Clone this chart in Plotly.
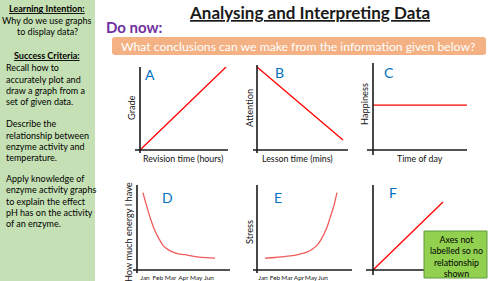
import plotly.graph_objects as go

W, H = 500, 281
FONT = "Lato"

# ---------------- data ----------------
months = ["Jan", "Feb", "Mar", "Apr", "May", "Jun"]
month_pos = [1, 2, 3, 4, 5, 6]

a_x = [0, 1]
a_y = [0, 1]

b_x = [0, 1]
b_y = [1, 0.12]

c_x = [0, 1]
c_y = [0.54, 0.54]

d_x = [0.84, 1.0, 1.16, 1.35, 1.55, 1.75, 1.94, 2.2, 2.41, 2.8, 3.19, 3.6, 4.13, 4.6, 5.06, 5.8, 6.47]
d_y = [0.91, 0.82, 0.74, 0.64, 0.55, 0.47, 0.41, 0.34, 0.29, 0.24, 0.21, 0.19, 0.18, 0.165, 0.155, 0.145, 0.14]

e_x = [1.17, 2.0, 2.6, 3.25, 4.0, 4.67, 5.1, 5.5, 5.85, 6.17, 6.4, 6.58, 6.76, 6.92, 7.05, 7.17]
e_y = [0.14, 0.147, 0.155, 0.165, 0.185, 0.21, 0.245, 0.29, 0.36, 0.45, 0.53, 0.61, 0.69, 0.76, 0.84, 0.91]

f_x = [0, 1]
f_y = [0, 1]

left_lines = [
    ("<b><u>Learning Intention:</u></b>", "c", 8),
    ("Why do we use graphs", "c", 21),
    ("to display data?", "c", 32),
    ("<b><u>Success Criteria:</u></b>", "c", 55),
    ("Recall how to", "l", 67),
    ("accurately plot and", "l", 79),
    ("draw a graph from a", "l", 90),
    ("set of given data.", "l", 102),
    ("Describe the", "l", 123),
    ("relationship between", "l", 135),
    ("enzyme activity and", "l", 146),
    ("temperature.", "l", 157),
    ("Apply knowledge of", "l", 178),
    ("enzyme activity graphs", "l", 189),
    ("to explain the effect", "l", 201),
    ("pH has on the activity", "l", 212),
    ("of an enzyme.", "l", 223),
]

# ---------------- layout helpers (pixel -> paper) ----------------
def PX(x):
    return x / W

def PY(y):
    return 1 - y / H

fig = go.Figure()
shapes = []
annotations = []

RED = "#FF0000"
PINK = "#F25A5A"
BLUE = "#0070C0"

charts = [
    dict(x=a_x, y=a_y, color=RED, spline=False, x0=140, xu=86, y0=150, yu=83,
         vline=(140, 67, 153), hline=(150, 135, 228), letter=("A", 150, 74),
         xt=("Revision time (hours)", 183, 158), yt=("Grade", 131, 108)),
    dict(x=b_x, y=b_y, color=RED, spline=False, x0=257, xu=86, y0=150, yu=83,
         vline=(257, 65, 153), hline=(150, 253, 348), letter=("B", 279, 73),
         xt=("Lesson time (mins)", 297, 158), yt=("Attention", 249, 108)),
    dict(x=c_x, y=c_y, color=RED, spline=False, x0=373, xu=94, y0=150, yu=83,
         vline=(373, 63, 155), hline=(150, 367, 467), letter=("C", 389, 73),
         xt=("Time of day", 420, 158), yt=("Happiness", 365, 104)),
    dict(x=d_x, y=d_y, color=PINK, spline=True, x0=132.2, xu=12.8, y0=270, yu=85,
         vline=(137, 185, 273), hline=(270, 133, 230), letter=("D", 167, 197),
         xt=None, yt=("How much energy I have", 128, 232), ticks=True),
    dict(x=e_x, y=e_y, color=PINK, spline=True, x0=251, xu=12, y0=270, yu=85,
         vline=(257, 185, 273), hline=(270, 253, 352), letter=("E", 278, 197),
         xt=None, yt=("Stress", 249, 232), ticks=True),
    dict(x=f_x, y=f_y, color=RED, spline=False, x0=373, xu=70, y0=270, yu=68,
         vline=(373, 185, 275), hline=(270, 366, 460), letter=("F", 393, 192),
         xt=None, yt=None),
]

for i, c in enumerate(charts, start=1):
    vx, vt, vb = c["vline"]
    hy, hl, hr = c["hline"]
    dx0, dx1 = vx - 3, hr
    dyt, dyb = vt, hy + 2
    xr = [(dx0 - c["x0"]) / c["xu"], (dx1 - c["x0"]) / c["xu"]]
    yr = [(c["y0"] - dyb) / c["yu"], (c["y0"] - dyt) / c["yu"]]
    xa = "xaxis" if i == 1 else f"xaxis{i}"
    ya = "yaxis" if i == 1 else f"yaxis{i}"
    xref = "x" if i == 1 else f"x{i}"
    yref = "y" if i == 1 else f"y{i}"
    fig.add_trace(go.Scatter(
        x=c["x"], y=c["y"], mode="lines", xaxis=xref, yaxis=yref,
        line=dict(color=c["color"], width=1.3,
                  shape="spline" if c["spline"] else "linear"),
        hoverinfo="skip", showlegend=False))
    xaxis = dict(domain=[PX(dx0), PX(dx1)], range=xr, anchor=yref,
                 showgrid=False, zeroline=False, showline=False,
                 showticklabels=False, fixedrange=True)
    if c.get("ticks"):
        xaxis.update(showticklabels=True, tickvals=month_pos, ticktext=months,
                     tickfont=dict(family=FONT, size=6.5, color="#222"), ticks="",
                     tickangle=0, ticklen=0)
    yaxis = dict(domain=[PY(dyb), PY(dyt)], range=yr, anchor=xref,
                 showgrid=False, zeroline=False, showline=False,
                 showticklabels=False, fixedrange=True)
    fig.update_layout({xa: xaxis, ya: yaxis})
    shapes.append(dict(type="line", xref="paper", yref="paper",
                       x0=PX(vx), x1=PX(vx), y0=PY(vt), y1=PY(vb),
                       line=dict(color="#1a1a1a", width=1.6)))
    shapes.append(dict(type="line", xref="paper", yref="paper",
                       x0=PX(hl), x1=PX(hr), y0=PY(hy), y1=PY(hy),
                       line=dict(color="#1a1a1a", width=1.6)))
    t, lx, ly = c["letter"]
    annotations.append(dict(text=t, x=PX(lx), y=PY(ly), xref="paper", yref="paper",
                            showarrow=False, xanchor="center", yanchor="middle",
                            font=dict(family=FONT, size=14, color=BLUE)))
    if c["xt"]:
        t, lx, ly = c["xt"]
        annotations.append(dict(text=t, x=PX(lx), y=PY(ly), xref="paper", yref="paper",
                                showarrow=False, xanchor="center", yanchor="middle",
                                font=dict(family=FONT, size=8.8, color="#111")))
    if c["yt"]:
        t, lx, ly = c["yt"]
        annotations.append(dict(text=t, x=PX(lx), y=PY(ly), xref="paper", yref="paper",
                                showarrow=False, xanchor="center", yanchor="middle",
                                textangle=-90,
                                font=dict(family=FONT, size=9.2, color="#111")))

# left green panel
shapes.insert(0, dict(type="rect", xref="paper", yref="paper", x0=0, x1=PX(95),
                      y0=0, y1=1, fillcolor="#C5E0B4", line=dict(width=0), layer="below"))
for txt, al, y in left_lines:
    annotations.append(dict(text=txt, x=PX(47 if al == "c" else 4), y=PY(y),
                            xref="paper", yref="paper", showarrow=False,
                            xanchor="center" if al == "c" else "left", yanchor="middle",
                            font=dict(family=FONT, size=9, color="#000")))

# orange banner
r = 3
bx0, bx1, by0, by1 = 112, 486, 37, 55
path = (f"M {PX(bx0 + r)},{PY(by0)} L {PX(bx1 - r)},{PY(by0)} "
        f"Q {PX(bx1)},{PY(by0)} {PX(bx1)},{PY(by0 + r)} L {PX(bx1)},{PY(by1 - r)} "
        f"Q {PX(bx1)},{PY(by1)} {PX(bx1 - r)},{PY(by1)} L {PX(bx0 + r)},{PY(by1)} "
        f"Q {PX(bx0)},{PY(by1)} {PX(bx0)},{PY(by1 - r)} L {PX(bx0)},{PY(by0 + r)} "
        f"Q {PX(bx0)},{PY(by0)} {PX(bx0 + r)},{PY(by0)} Z")
shapes.append(dict(type="path", xref="paper", yref="paper", path=path,
                   fillcolor="#F4B183", line=dict(width=0), layer="below"))
annotations.append(dict(text="What conclusions can we make from the information given below?",
                        x=PX(298), y=PY(46), xref="paper", yref="paper", showarrow=False,
                        xanchor="center", yanchor="middle",
                        font=dict(family=FONT, size=12.2, color="#FFFFFF")))

# title and "Do now:"
annotations.append(dict(text="<b><u>Analysing and Interpreting Data</u></b>",
                        x=PX(309), y=PY(13), xref="paper", yref="paper", showarrow=False,
                        xanchor="center", yanchor="middle",
                        font=dict(family=FONT, size=17, color="#1a1a1a")))
annotations.append(dict(text="<b>Do now:</b>", x=PX(104), y=PY(27), xref="paper", yref="paper",
                        showarrow=False, xanchor="left", yanchor="middle",
                        font=dict(family=FONT, size=15, color="#7030A0")))

# green note box in chart F
shapes.append(dict(type="rect", xref="paper", yref="paper", x0=PX(424), x1=PX(487),
                   y0=PY(278), y1=PY(231), fillcolor="#92D050",
                   line=dict(color="#5E9A3A", width=1)))
annotations.append(dict(text="Axes not<br>labelled so no<br>relationship<br>shown",
                        x=PX(456), y=PY(256), xref="paper", yref="paper", showarrow=False,
                        xanchor="center", yanchor="middle",
                        font=dict(family=FONT, size=8.8, color="#000")))

fig.update_layout(width=W, height=H, margin=dict(l=0, r=0, t=0, b=0),
                  paper_bgcolor="white", plot_bgcolor="rgba(0,0,0,0)",
                  shapes=shapes, annotations=annotations, showlegend=False)

fig.write_html("out.html")
